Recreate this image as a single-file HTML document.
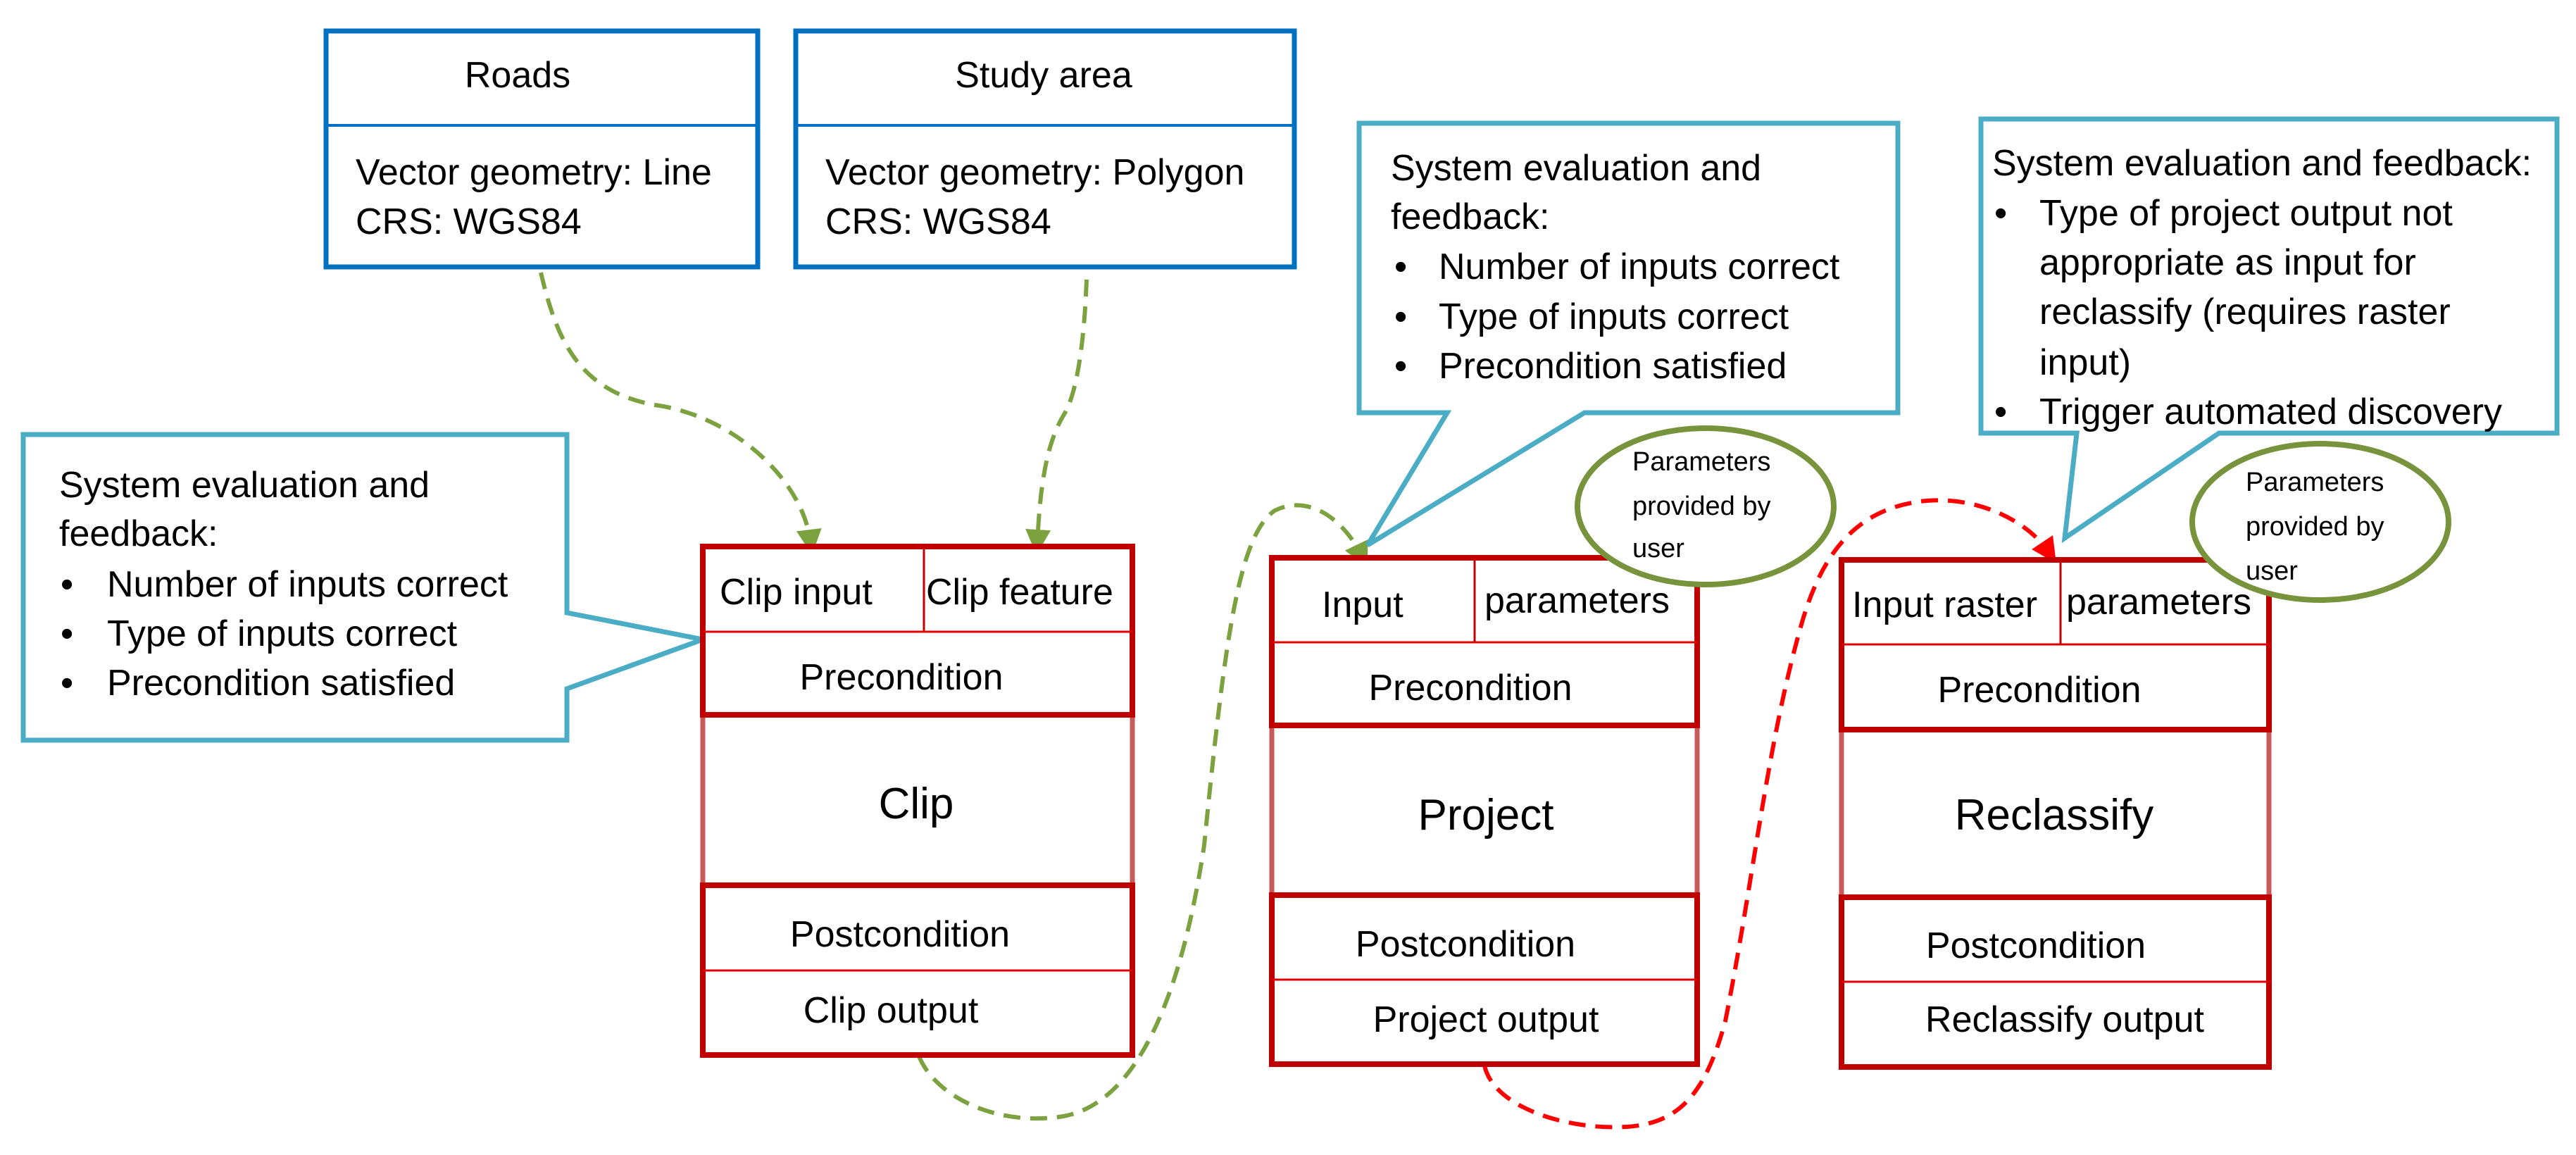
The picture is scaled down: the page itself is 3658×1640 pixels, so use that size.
<!DOCTYPE html>
<html><head><meta charset="utf-8"><style>
html,body{margin:0;padding:0;background:#fff;}
svg{display:block;font-family:"Liberation Sans",sans-serif;}
</style></head><body>
<svg width="3658" height="1640" viewBox="0 0 3658 1640" xmlns="http://www.w3.org/2000/svg">
<defs>
<marker id="ag" markerWidth="6" markerHeight="6" refX="3" refY="3" orient="auto" markerUnits="strokeWidth"><path d="M0,0 L6,3 L0,6 z" fill="#7ba23f"/></marker>
<marker id="ar" markerWidth="6" markerHeight="6" refX="3" refY="3" orient="auto" markerUnits="strokeWidth"><path d="M0,0 L6,3 L0,6 z" fill="#ff0000"/></marker>
</defs>
<g font-size="52" fill="#000">
<!-- Roads -->
<rect x="463" y="44" width="613" height="335" fill="#fff" stroke="#0070c0" stroke-width="7"/>
<line x1="463" y1="178" x2="1076" y2="178" stroke="#0070c0" stroke-width="4"/>
<text x="735" y="124" text-anchor="middle">Roads</text>
<text x="505" y="262">Vector geometry: Line</text>
<text x="505" y="332">CRS: WGS84</text>
<!-- Study area -->
<rect x="1130" y="44" width="708" height="335" fill="#fff" stroke="#0070c0" stroke-width="7"/>
<line x1="1130" y1="178" x2="1838" y2="178" stroke="#0070c0" stroke-width="4"/>
<text x="1482" y="124" text-anchor="middle">Study area</text>
<text x="1172" y="262">Vector geometry: Polygon</text>
<text x="1172" y="332">CRS: WGS84</text>

<!-- green dashed arrows -->
<path d="M768,387 C790,480 820,555 930,575 C1040,590 1140,680 1151,770" fill="none" stroke="#7ba23f" stroke-width="6" stroke-dasharray="24,14" marker-end="url(#ag)"/>
<path d="M1543,397 C1540,480 1530,560 1510,590 C1480,640 1476,720 1473,770" fill="none" stroke="#7ba23f" stroke-width="6" stroke-dasharray="24,14" marker-end="url(#ag)"/>
<path d="M1305,1500 C1330,1560 1420,1600 1510,1585 C1620,1565 1680,1400 1710,1200 C1740,900 1760,760 1810,725 C1860,700 1910,740 1934,790" fill="none" stroke="#7ba23f" stroke-width="6" stroke-dasharray="24,14" marker-end="url(#ag)"/>
<!-- red dashed -->
<path d="M2108,1513 C2120,1570 2220,1605 2310,1600 C2380,1595 2420,1560 2450,1450 C2490,1250 2510,1050 2560,880 C2590,780 2640,720 2736,711 C2810,705 2880,740 2910,785" fill="none" stroke="#ff0000" stroke-width="6" stroke-dasharray="24,14" marker-end="url(#ar)"/>

<!-- Left callout -->
<path d="M33,617 L805,617 L805,870 L998,908 L805,978 L805,1051 L33,1051 Z" fill="#fff" stroke="#4bacc6" stroke-width="7"/>
<text x="84" y="706">System evaluation and</text>
<text x="84" y="775">feedback:</text>
<text x="86" y="847">•</text><text x="152" y="847">Number of inputs correct</text>
<text x="86" y="917">•</text><text x="152" y="917">Type of inputs correct</text>
<text x="86" y="987">•</text><text x="152" y="987">Precondition satisfied</text>

<!-- Clip box -->
<rect x="998" y="776" width="610" height="722" fill="#fff" stroke="none"/>
<line x1="998" y1="1015" x2="998" y2="1257" stroke="#c85a5a" stroke-width="7"/>
<line x1="1608" y1="1015" x2="1608" y2="1257" stroke="#c85a5a" stroke-width="7"/>
<rect x="998" y="776" width="610" height="239" fill="none" stroke="#c00000" stroke-width="8"/>
<rect x="998" y="1257" width="610" height="241" fill="none" stroke="#c00000" stroke-width="8"/>
<line x1="998" y1="897" x2="1608" y2="897" stroke="#e00000" stroke-width="3"/>
<line x1="998" y1="1378" x2="1608" y2="1378" stroke="#e00000" stroke-width="3"/>
<line x1="1312" y1="776" x2="1312" y2="897" stroke="#c00000" stroke-width="3"/>
<text x="1022" y="858">Clip input</text>
<text x="1315" y="858">Clip feature</text>
<text x="1280" y="979" text-anchor="middle">Precondition</text>
<text x="1301" y="1162" text-anchor="middle" font-size="62">Clip</text>
<text x="1278" y="1344" text-anchor="middle">Postcondition</text>
<text x="1265" y="1452" text-anchor="middle">Clip output</text>

<!-- Callout 2 -->
<path d="M1930,175 L2695,175 L2695,586 L2250,586 L1942,774 L2055,586 L1930,586 Z" fill="#fff" stroke="#4bacc6" stroke-width="7"/>
<text x="1975" y="256">System evaluation and</text>
<text x="1975" y="325">feedback:</text>
<text x="1980" y="396">•</text><text x="2043" y="396">Number of inputs correct</text>
<text x="1980" y="467">•</text><text x="2043" y="467">Type of inputs correct</text>
<text x="1980" y="537">•</text><text x="2043" y="537">Precondition satisfied</text>

<!-- Project box -->
<rect x="1806" y="792" width="604" height="719" fill="#fff" stroke="none"/>
<line x1="1806" y1="1030" x2="1806" y2="1271" stroke="#c85a5a" stroke-width="7"/>
<line x1="2410" y1="1030" x2="2410" y2="1271" stroke="#c85a5a" stroke-width="7"/>
<rect x="1806" y="792" width="604" height="238" fill="none" stroke="#c00000" stroke-width="8"/>
<rect x="1806" y="1271" width="604" height="240" fill="none" stroke="#c00000" stroke-width="8"/>
<line x1="1806" y1="912" x2="2410" y2="912" stroke="#e00000" stroke-width="3"/>
<line x1="1806" y1="1391" x2="2410" y2="1391" stroke="#e00000" stroke-width="3"/>
<line x1="2094" y1="792" x2="2094" y2="912" stroke="#c00000" stroke-width="3"/>
<text x="1877" y="876">Input</text>
<text x="2108" y="870">parameters</text>
<text x="2088" y="994" text-anchor="middle">Precondition</text>
<text x="2110" y="1178" text-anchor="middle" font-size="62">Project</text>
<text x="2081" y="1358" text-anchor="middle">Postcondition</text>
<text x="2110" y="1465" text-anchor="middle">Project output</text>

<!-- Ellipse 1 -->
<ellipse cx="2422" cy="719" rx="182" ry="111" fill="#fff" stroke="#77933c" stroke-width="8"/>
<g font-size="38"><text x="2318" y="668">Parameters</text><text x="2318" y="731">provided by</text><text x="2318" y="791">user</text></g>

<!-- Callout 3 -->
<path d="M2813,169 L3631,169 L3631,615 L3151,615 L2932,764 L2949,615 L2813,615 Z" fill="#fff" stroke="#4bacc6" stroke-width="7"/>
<text x="2829" y="249">System evaluation and feedback:</text>
<text x="2832" y="320">•</text><text x="2896" y="320">Type of project output not</text>
<text x="2896" y="390">appropriate as input for</text>
<text x="2896" y="460">reclassify (requires raster</text>
<text x="2896" y="532">input)</text>
<text x="2832" y="602">•</text><text x="2896" y="602">Trigger automated discovery</text>

<!-- Reclassify box -->
<rect x="2615" y="795" width="607" height="720" fill="#fff" stroke="none"/>
<line x1="2615" y1="1036" x2="2615" y2="1274" stroke="#c85a5a" stroke-width="7"/>
<line x1="3222" y1="1036" x2="3222" y2="1274" stroke="#c85a5a" stroke-width="7"/>
<rect x="2615" y="795" width="607" height="241" fill="none" stroke="#c00000" stroke-width="8"/>
<rect x="2615" y="1274" width="607" height="241" fill="none" stroke="#c00000" stroke-width="8"/>
<line x1="2615" y1="915" x2="3222" y2="915" stroke="#e00000" stroke-width="3"/>
<line x1="2615" y1="1394" x2="3222" y2="1394" stroke="#e00000" stroke-width="3"/>
<line x1="2926" y1="795" x2="2926" y2="915" stroke="#c00000" stroke-width="3"/>
<text x="2630" y="876">Input raster</text>
<text x="2934" y="872">parameters</text>
<text x="2896" y="997" text-anchor="middle">Precondition</text>
<text x="2917" y="1178" text-anchor="middle" font-size="62">Reclassify</text>
<text x="2891" y="1360" text-anchor="middle">Postcondition</text>
<text x="2932" y="1465" text-anchor="middle">Reclassify output</text>

<!-- Ellipse 2 -->
<ellipse cx="3295" cy="741" rx="182" ry="111" fill="#fff" stroke="#77933c" stroke-width="8"/>
<g font-size="38"><text x="3189" y="697">Parameters</text><text x="3189" y="760">provided by</text><text x="3189" y="823">user</text></g>
</g>
</svg>
</body></html>
